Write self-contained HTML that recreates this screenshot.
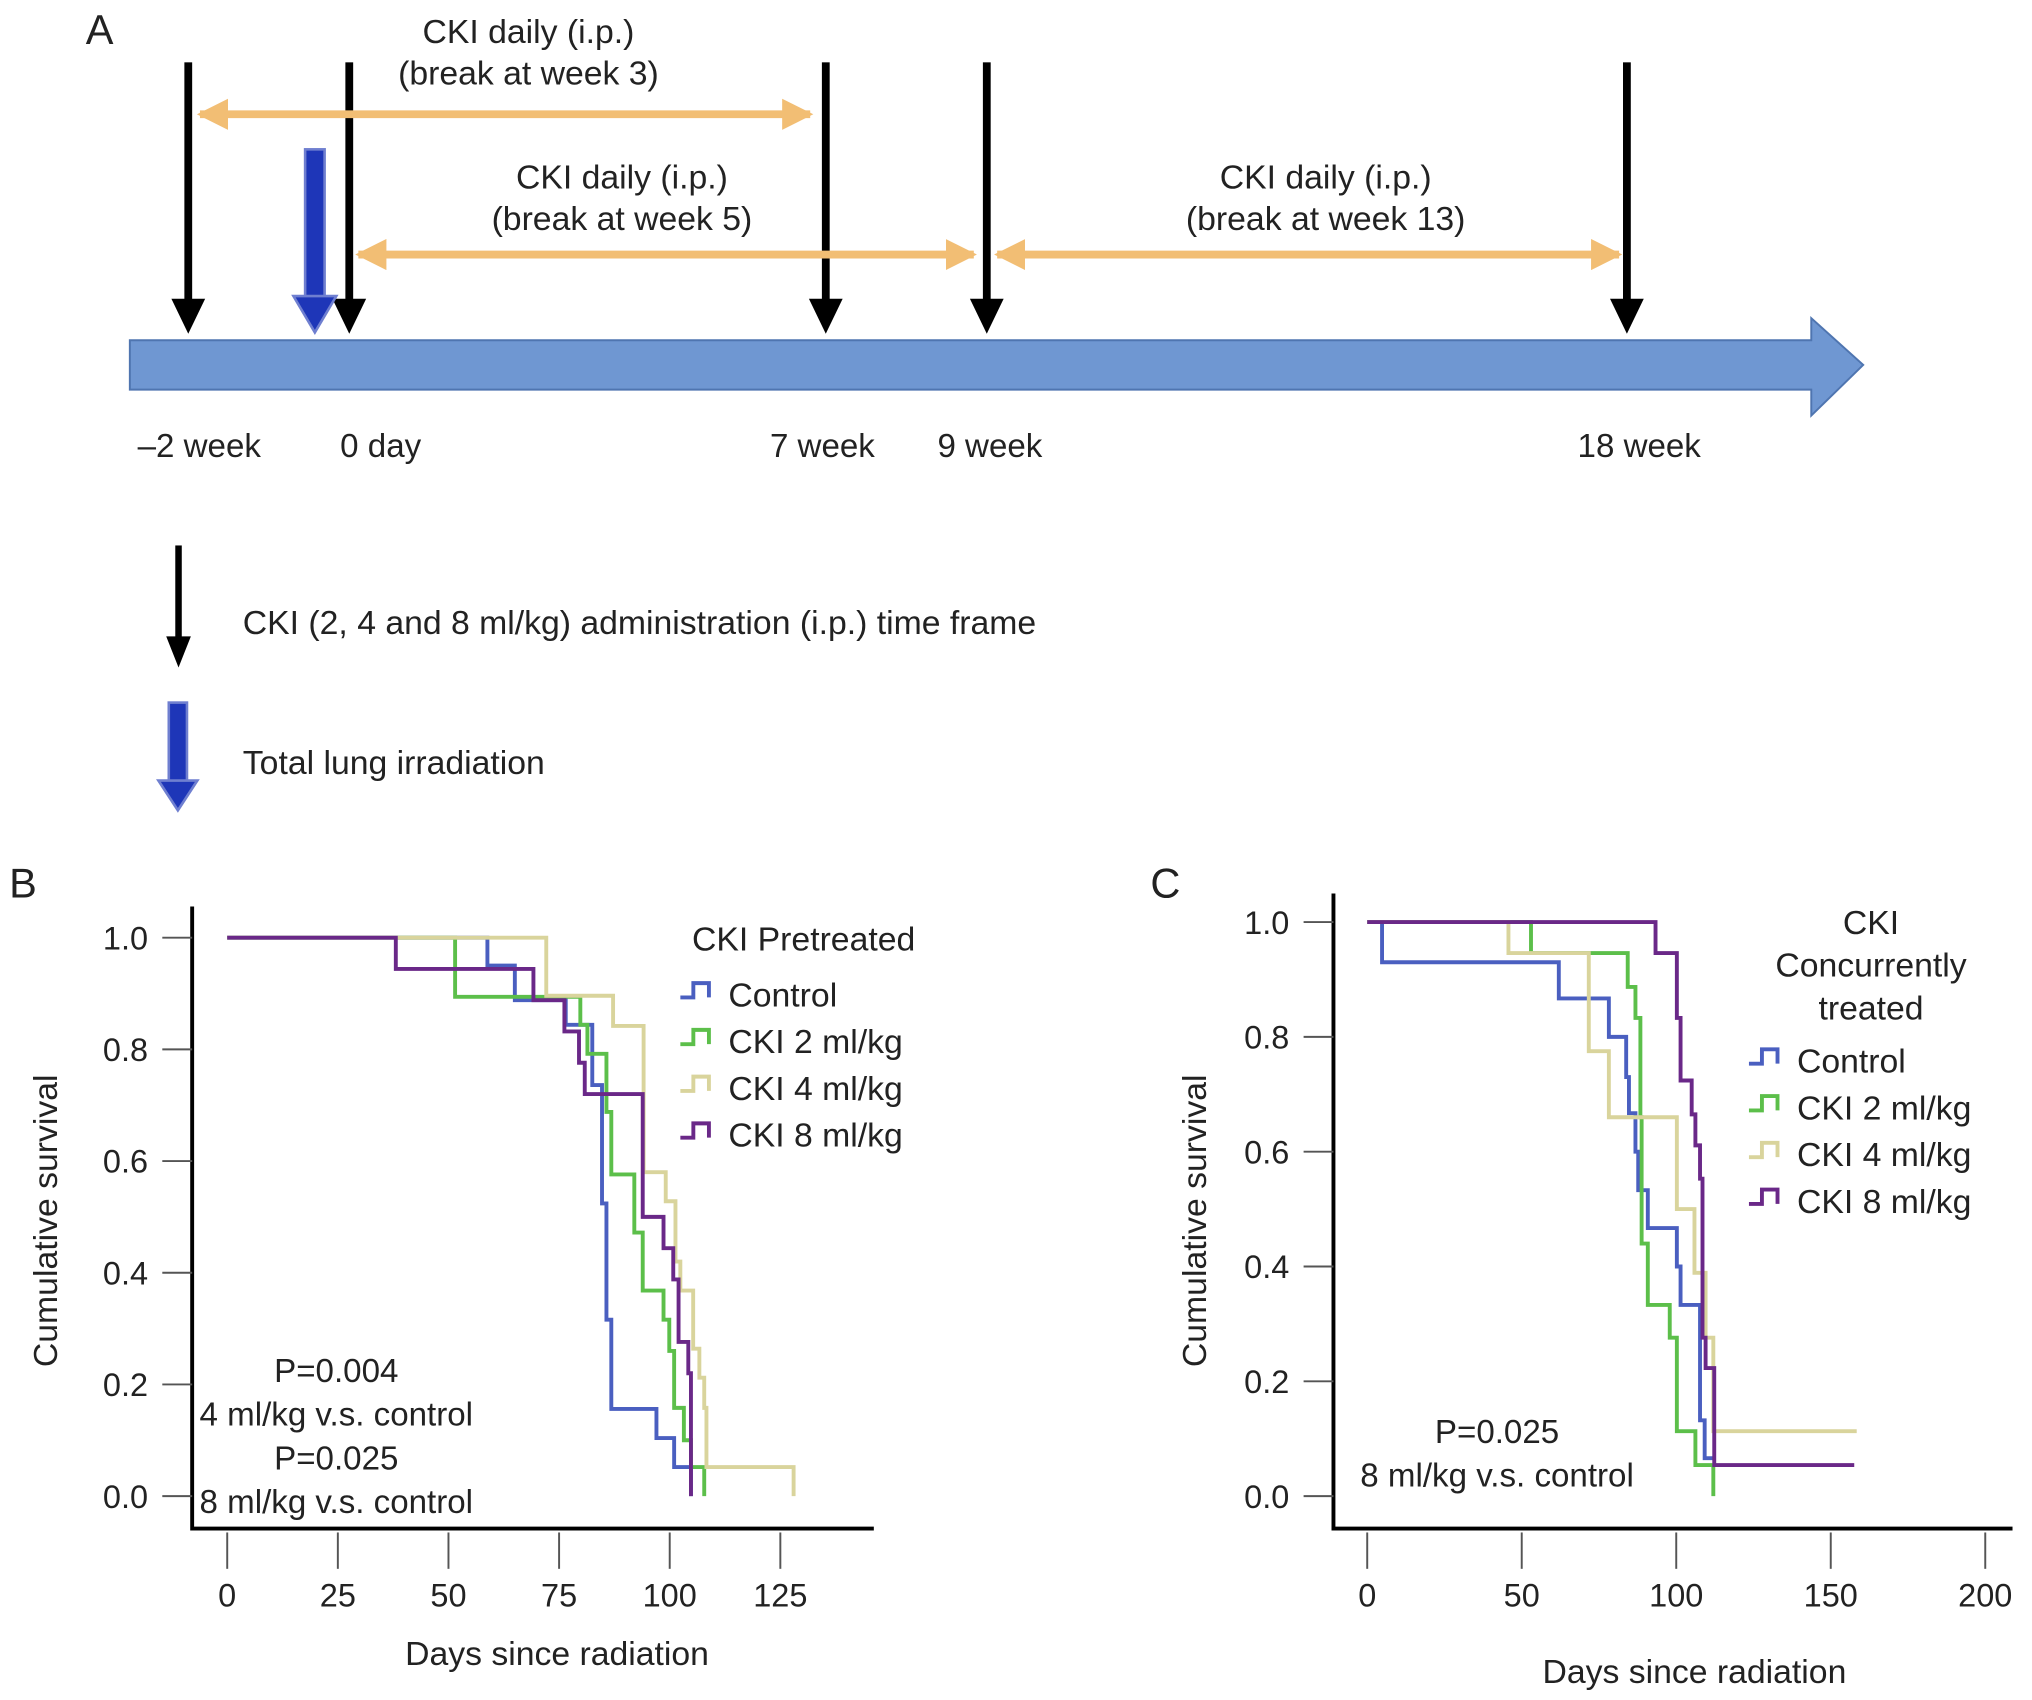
<!DOCTYPE html>
<html><head><meta charset="utf-8"><style>
html,body{margin:0;padding:0;background:#fff}
svg{display:block}
text{font-family:"Liberation Sans",sans-serif;fill:#222}
</style></head><body>
<svg id="fig" width="2032" height="1700" viewBox="0 0 1565 1309" preserveAspectRatio="none" xmlns="http://www.w3.org/2000/svg">
<defs>
<marker id="oh" viewBox="0 0 10 10" refX="9" refY="5" markerWidth="4" markerHeight="4" orient="auto-start-reverse"><path d="M0,0 L10,5 L0,10 z" fill="#f2be74"/></marker>
</defs>
<g id="panelA">
<text x="66" y="34" font-size="32">A</text>
<path d="M100,262 H1395 V245 L1435,281 L1395,320 V300 H100 Z" fill="#6f97d2" stroke="#4f75b0" stroke-width="1.5"/>
<g id="blackArrows"></g>
<g>
<rect x="235" y="115" width="15" height="115" fill="#1e36b8" stroke="#6f7fd0" stroke-width="2"/>
<path d="M226,228 H259 L242.5,256 Z" fill="#1e36b8" stroke="#6f7fd0" stroke-width="2"/>
</g>
<line x1="154" y1="88" x2="624" y2="88" stroke="#f2be74" stroke-width="6" marker-start="url(#oh)" marker-end="url(#oh)"/>
<line x1="276" y1="196" x2="750" y2="196" stroke="#f2be74" stroke-width="6" marker-start="url(#oh)" marker-end="url(#oh)"/>
<line x1="768" y1="196" x2="1247" y2="196" stroke="#f2be74" stroke-width="6" marker-start="url(#oh)" marker-end="url(#oh)"/>
<g font-size="26" text-anchor="middle">
<text x="407" y="33">CKI daily (i.p.)</text>
<text x="407" y="65">(break at week 3)</text>
<text x="479" y="145">CKI daily (i.p.)</text>
<text x="479" y="177">(break at week 5)</text>
<text x="1021" y="145">CKI daily (i.p.)</text>
<text x="1021" y="177">(break at week 13)</text>
</g>
<g font-size="25.5">
<text x="106" y="352">–2 week</text>
<text x="262" y="352">0 day</text>
<text x="593" y="352">7 week</text>
<text x="722" y="352">9 week</text>
<text x="1215" y="352">18 week</text>
</g>
<g font-size="26">
<text x="187" y="488">CKI (2, 4 and 8 ml/kg) administration (i.p.) time frame</text>
<text x="187" y="596">Total lung irradiation</text>
</g>
<g>
<rect x="135" y="420" width="5" height="72" fill="#000"/><path d="M128,490 H147 L137.5,514 Z" fill="#000"/>
</g>
<g>
<rect x="130" y="541" width="14" height="62" fill="#1e36b8" stroke="#6f7fd0" stroke-width="2"/>
<path d="M122,601 H152 L137,624 Z" fill="#1e36b8" stroke="#6f7fd0" stroke-width="2"/>
</g>
</g>
<g id="panelB"></g>
<g id="panelC"></g>
</svg>
<script>
// Panel B data (days, survival after drop)
const bControlT=[58.8,65,76.5,82.5,84.7,85.7,86.8,97,101,104.8];
const bControlS=[0.95,0.888,0.844,0.736,0.524,0.316,0.156,0.104,0.052,0];
const bCki2T=[51.5,79.8,81.4,85.7,86.8,92,93.9,98.6,99.9,101,103.2,104.8,107.8];
const bCki2S=[0.894,0.844,0.792,0.688,0.576,0.472,0.368,0.316,0.26,0.158,0.10,0.052,0];
const bCki4T=[72.1,87.2,94.1,99.1,101.3,102.4,105.3,106.7,107.8,108.3,128];
const bCki4S=[0.896,0.842,0.58,0.528,0.42,0.368,0.264,0.212,0.158,0.052,0];
const bCki8T=[38.1,69.2,76.2,79.5,80.8,93.9,98.6,100.8,102,104.2,104.8];
const bCki8S=[0.944,0.888,0.832,0.776,0.72,0.5,0.444,0.388,0.276,0.22,0];
const bXTicks=[0,25,50,75,100,125];
const yTicks=[0,0.2,0.4,0.6,0.8,1.0];
// Panel C data
const cControlT=[4.8,62,78.2,83.8,84.7,86.8,87.7,90.8,100.2,101.4,107.7,109.2];
const cControlS=[0.93,0.867,0.80,0.73,0.667,0.6,0.533,0.467,0.40,0.333,0.132,0.066];
const cCki2T=[53,84.3,86.8,88.4,88.8,90.8,97.9,100.2,106.2,112];
const cCki2S=[0.946,0.887,0.833,0.66,0.44,0.333,0.276,0.113,0.054,0];
const cCki4T=[45.7,71.7,78.2,100.2,105.9,109.5,112];
const cCki4S=[0.946,0.775,0.66,0.50,0.389,0.276,0.113];
const cCki8T=[93.3,100.2,101.4,105,106.2,107.7,108.5,109.5,112.3];
const cCki8S=[0.946,0.833,0.724,0.665,0.611,0.553,0.276,0.223,0.054];
const cEnd=[112,112,158.4,157.6];
const cXTicks=[0,50,100,150,200];

const NS='http://www.w3.org/2000/svg';
const colors=['#4a5fc0','#5cbf4a','#d9d49c','#6a2888'];
const names=['Control','CKI 2 ml/kg','CKI 4 ml/kg','CKI 8 ml/kg'];
function mk(tag,attrs,parent){const e=document.createElementNS(NS,tag);for(const k in attrs)e.setAttribute(k,attrs[k]);parent.appendChild(e);return e;}

const ba=document.getElementById('blackArrows');
[145,269,636,760,1253].forEach((x,i)=>{
  const g=mk('g',{},ba);
  
  
  mk('rect',{x:x-3,y:48,width:6,height:185,fill:'#000'},g);
  mk('path',{d:`M${x-13},230 H${x+13} L${x},257 Z`,fill:'#000'},g);
});

function panel(g,cfg){
  const X=d=>cfg.x0+d*cfg.kx, Y=s=>cfg.y0-s*cfg.ky;
  let e=mk('path',{d:`M${cfg.axL},${cfg.axTop} V1177 H${cfg.axR}`,fill:'none',stroke:'#000','stroke-width':3},g);
   
  yTicks.forEach(v=>{
    const l=mk('line',{x1:cfg.axL-23,x2:cfg.axL,y1:Y(v),y2:Y(v),stroke:'#555','stroke-width':1.5},g);
     
    const t=mk('text',{x:cfg.axL-34,y:Y(v)+9,'font-size':25,'text-anchor':'end'},g);
    t.textContent=v.toFixed(1);
     
  });
  cfg.xt.forEach(v=>{
    const l=mk('line',{x1:X(v),x2:X(v),y1:1180,y2:1208,stroke:'#555','stroke-width':1.5},g);
     
    const t=mk('text',{x:X(v),y:1237,'font-size':25,'text-anchor':'middle'},g);
    t.textContent=v;
     
  });
  let t=mk('text',{x:cfg.xtx,y:cfg.xty,'font-size':26,'text-anchor':'middle'},g);
  t.textContent='Days since radiation';
   
  t=mk('text',{x:0,y:0,'font-size':26,'text-anchor':'middle',transform:`translate(${cfg.ytx},940) rotate(-90)`},g);
  t.textContent='Cumulative survival';
   
  t=mk('text',{x:cfg.lx,y:cfg.ly,'font-size':32},g);
  t.textContent=cfg.label;
   
  cfg.series.forEach((s,i)=>{
    let d=`M${X(0)},${Y(1)}`;
    s.t.forEach((tt,j)=>{d+=` H${X(tt)} V${Y(s.s[j])}`;});
    if(s.end!==undefined) d+=` H${X(s.end)}`;
    const p=mk('path',{d,fill:'none',stroke:colors[i],'stroke-width':3},g);
    
    
  });
  cfg.title.forEach((tx,k)=>{
    const tt=mk('text',{x:cfg.tx,y:cfg.ty+k*33,'font-size':26,'text-anchor':cfg.tanchor},g);
    tt.textContent=tx;
     
  });
  names.forEach((n,i)=>{
    const y=cfg.legY+i*36;
    const lg=mk('g',{},g);
     
    mk('path',{d:`M${cfg.legX},${y+2} H${cfg.legX+10} V${y-9} H${cfg.legX+22} V${y+2}`,fill:'none',stroke:colors[i],'stroke-width':3},lg);
    const tt=mk('text',{x:cfg.legX+37,y:y+9,'font-size':26},lg);
    tt.textContent=n;
  });
  cfg.ptext.forEach((tx,k)=>{
    const tt=mk('text',{x:cfg.px,y:cfg.py+k*33.7,'font-size':25.5,'text-anchor':'middle'},g);
    tt.textContent=tx;
     
  });
}
panel(document.getElementById('panelB'),{x0:175,kx:3.408,y0:1152,ky:430,axL:148,axTop:698,axR:673,xt:bXTicks,
  xtx:429,xty:1282,ytx:44,lx:7,ly:691,label:'B',
  series:[{t:bControlT,s:bControlS},{t:bCki2T,s:bCki2S},{t:bCki4T,s:bCki4S},{t:bCki8T,s:bCki8S}],
  title:['CKI Pretreated'],tx:533,ty:732,tanchor:'start',legX:524,legY:766,
  ptext:['P=0.004','4 ml/kg v.s. control','P=0.025','8 ml/kg v.s. control'],px:259,py:1064});
panel(document.getElementById('panelC'),{x0:1053,kx:2.38,y0:1152,ky:442,axL:1027,axTop:688,axR:1550,xt:cXTicks,
  xtx:1305,xty:1296,ytx:929,lx:886,ly:691,label:'C',
  series:[{t:cControlT,s:cControlS,end:cEnd[0]},{t:cCki2T,s:cCki2S},{t:cCki4T,s:cCki4S,end:cEnd[2]},{t:cCki8T,s:cCki8S,end:cEnd[3]}],
  title:['CKI','Concurrently','treated'],tx:1441,ty:719,tanchor:'middle',legX:1347,legY:817,
  ptext:['P=0.025','8 ml/kg v.s. control'],px:1153,py:1111});
</script>
</body></html>
